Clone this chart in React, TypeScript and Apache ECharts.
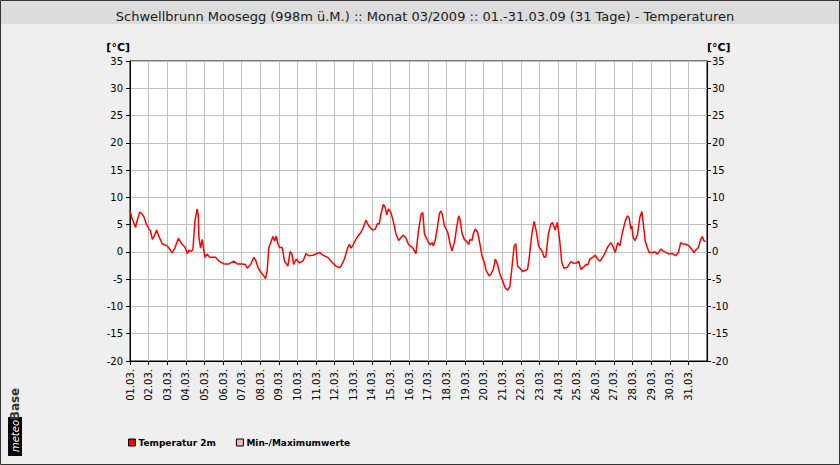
import React, { useEffect, useRef } from "react";
import * as echarts from "echarts";

const titleText =
  "Schwellbrunn Moosegg (998m ü.M.) :: Monat 03/2009 :: 01.-31.03.09 (31 Tage) - Temperaturen";

const dayLabels = [
  "01.03.", "02.03.", "03.03.", "04.03.", "05.03.", "06.03.", "07.03.", "08.03.",
  "09.03.", "10.03.", "11.03.", "12.03.", "13.03.", "14.03.", "15.03.", "16.03.",
  "17.03.", "18.03.", "19.03.", "20.03.", "21.03.", "22.03.", "23.03.", "24.03.",
  "25.03.", "26.03.", "27.03.", "28.03.", "29.03.", "30.03.", "31.03.",
];

// time in days since 01.03. 00:00
const days = [
  0, 0.125, 0.2, 0.3, 0.38, 0.52, 0.66, 0.75, 0.88, 1.02, 1.1, 1.2, 1.29, 1.43, 1.56, 1.73,
  2.0, 2.18, 2.27, 2.41, 2.6, 2.77, 2.95, 3.08, 3.17, 3.3, 3.38, 3.49, 3.61, 3.67, 3.7, 3.79,
  3.88, 4.02, 4.15, 4.28, 4.6, 4.78, 5.04, 5.31, 5.58, 5.76, 6.03, 6.2, 6.3, 6.48, 6.65, 6.74,
  6.89, 7.01, 7.19, 7.28, 7.37, 7.46,
  7.59, 7.68, 7.77, 7.86, 7.95, 8.04, 8.18, 8.3, 8.48, 8.61, 8.7, 8.79, 8.93, 9.1, 9.29, 9.46,
  9.6, 9.82, 10.18, 10.36, 10.63, 10.8, 11.07, 11.25, 11.34, 11.52, 11.7, 11.79, 11.88, 12.0,
  12.18, 12.41, 12.54, 12.68, 12.82, 13.04, 13.18, 13.3, 13.39, 13.48, 13.61, 13.71, 13.79,
  13.89, 14.02, 14.14, 14.29, 14.43, 14.55, 14.68, 14.82, 14.96, 15.18, 15.36,
  15.5, 15.64, 15.73, 15.82, 16.0, 16.13, 16.23, 16.3, 16.41, 16.54, 16.63, 16.71, 16.8, 16.89,
  17.07, 17.2, 17.3, 17.43, 17.55, 17.66, 17.73, 17.84, 17.96, 18.09, 18.2, 18.27, 18.38,
  18.45, 18.55, 18.68, 18.77, 18.91, 19.04, 19.13, 19.3, 19.39, 19.52, 19.63, 19.75, 19.88,
  20.02, 20.16, 20.29, 20.41, 20.52, 20.64, 20.73, 20.82, 20.95, 21.09, 21.23, 21.36, 21.45,
  21.59, 21.71, 21.84, 21.95, 22.02, 22.13, 22.25, 22.34, 22.48, 22.61, 22.7, 22.84, 22.96,
  23.09, 23.2, 23.32, 23.5,
  23.68, 23.86, 24.0, 24.1, 24.23, 24.36, 24.5, 24.59, 24.71, 24.86, 25.0, 25.12, 25.25, 25.39,
  25.54, 25.66, 25.84, 25.96, 26.07, 26.2, 26.32, 26.46, 26.61, 26.73, 26.82, 26.91, 26.96,
  27.04, 27.14, 27.27, 27.39, 27.5, 27.57, 27.68, 27.8, 27.89, 28.07, 28.21, 28.34, 28.52,
  28.64, 28.79, 28.96, 29.14, 29.32, 29.46, 29.59, 29.68, 29.86, 30.04, 30.18, 30.3, 30.39,
  30.54, 30.66, 30.75, 30.84, 30.93,
];

const temps = [
  7.5, 6.0, 5.4, 4.5, 5.7, 7.3, 6.9, 6.4, 5.1, 4.2, 3.9, 2.3, 2.8, 4.0, 2.8, 1.5,
  1.1, 0.3, -0.2, 0.7, 2.5, 1.5, 0.9, -0.3, 0.3, 0.1, 0.5, 5.7, 7.9, 6.7, 2.7, 0.7,
  2.3, -1.0, -0.4, -1.0, -1.0, -1.7, -2.2, -2.2, -1.7, -2.2, -2.2, -2.3, -3.0, -2.3, -1.0, -1.4,
  -3.0, -3.6, -4.4, -4.9, -3.5, 0.8,
  2.0, 2.8, 2.0, 2.9, 1.4, 0.8, 0.8, -1.7, -2.6, 0.1, -0.4, -2.3, -1.3, -2.0, -1.7, -0.3,
  -0.7, -0.6, -0.1, -0.6, -1.0, -1.7, -2.6, -2.9, -2.6, -1.3, 0.8, 1.4, 0.7, 1.4,
  2.6, 3.6, 4.5, 5.8, 4.8, 4.0, 4.2, 5.2, 5.1, 6.9, 8.7, 8.2, 6.8,
  7.9, 7.2, 5.7, 3.3, 2.1, 2.6, 3.1, 2.6, 1.4, 0.8, -0.3,
  3.9, 6.9, 7.2, 3.3, 2.0, 1.3, 1.7, 1.1, 2.3, 5.1, 7.1, 7.5, 6.6, 4.8,
  3.6, 1.4, 0.2, 1.7, 4.5, 6.6, 6.0, 3.4, 2.3, 1.9, 1.4, 2.3, 2.1,
  3.4, 4.2, 3.6, 2.0, -0.7, -2.0, -3.4, -4.4, -4.1, -3.2, -1.3, -2.3, -4.1,
  -5.3, -6.6, -7.0, -6.3, -2.9, 1.1, 1.5, -2.6, -3.0, -3.6, -3.4, -3.2, -1.0,
  3.3, 5.6, 3.6, 1.1, 0.7, 0.2, -1.0, -0.9, 3.3, 5.1, 5.4, 4.0, 5.4,
  2.0, -2.0, -3.0, -2.8,
  -1.8, -2.1, -2.0, -1.7, -3.2, -2.8, -2.3, -2.4, -1.3, -1.0, -0.6, -1.3, -1.7, -1.0,
  -0.1, 0.9, 1.7, 0.9, -0.1, 1.7, 1.1, 3.6, 5.7, 6.6, 6.2, 4.2, 4.8,
  2.6, 2.1, 3.3, 6.3, 7.4, 5.4, 2.0, 0.7, -0.1, -0.1, 0.0, -0.4, 0.5,
  0.2, -0.1, -0.4, -0.3, -0.7, -0.1, 1.7, 1.5, 1.4, 1.1, 0.5, -0.1, 0.3,
  0.8, 2.3, 2.8, 2.0, 1.9,
];

const FONT = "DejaVu Sans";

export default function App() {
  const ref = useRef<HTMLDivElement>(null);
  useEffect(() => {
    if (!ref.current) return;
    const chart = echarts.init(ref.current, null, { renderer: "svg" });
    const lineData = days.map((d, i) => [d, temps[i]]);
    const yAxisCommon = {
      type: "value",
      min: -20,
      max: 35,
      interval: 5,
      name: "[°C]",
      nameLocation: "end",
      nameGap: 14,
      axisLine: { show: true, lineStyle: { color: "#000", width: 1 } },
      axisTick: { show: true, length: 4, lineStyle: { color: "#000" } },
      splitLine: { show: true, lineStyle: { color: "#c0c0c0", width: 1 } },
    };
    chart.setOption({
      animation: false,
      backgroundColor: "#efefef",
      textStyle: { fontFamily: FONT },
      title: {
        text: titleText,
        left: 420,
        textAlign: "center",
        top: 5,
        textStyle: { fontFamily: FONT, fontSize: 13, fontWeight: "normal", color: "#1a1a1a" },
      },
      graphic: [
        {
          type: "rect",
          shape: { x: 0, y: 0, width: 840, height: 24 },
          style: { fill: "#dcdcdc" },
          z: -10,
          silent: true,
        },
        {
          type: "rect",
          shape: { x: 0.5, y: 0.5, width: 839, height: 464 },
          style: { fill: "none", stroke: "#333", lineWidth: 1 },
          z: 100,
          silent: true,
        },
        {
          type: "rect",
          shape: { x: 8, y: 417, width: 14, height: 39 },
          style: { fill: "#000" },
          silent: true,
        },
        {
          type: "text",
          x: 15,
          y: 436,
          rotation: Math.PI / 2,
          style: {
            text: "meteo",
            fill: "#fff",
            font: "italic 10px DejaVu Sans",
            align: "center",
            verticalAlign: "middle",
          },
          silent: true,
        },
        {
          type: "text",
          x: 15,
          y: 404,
          rotation: Math.PI / 2,
          style: {
            text: "Base",
            fill: "#333",
            font: "bold 12px DejaVu Sans",
            align: "center",
            verticalAlign: "middle",
          },
          silent: true,
        },
      ],
      legend: {
        left: 123,
        top: 433,
        icon: "rect",
        itemWidth: 7,
        itemHeight: 7,
        itemGap: 20,
        textStyle: { fontFamily: FONT, fontSize: 9, fontWeight: "bold", color: "#000", padding: [0, 0, 0, -2] },
        data: [
          { name: "Temperatur 2m", itemStyle: { color: "#ff0000", borderColor: "#000", borderWidth: 1 } },
          { name: "Min-/Maximumwerte", itemStyle: { color: "#f4b6b6", borderColor: "#000", borderWidth: 1 } },
        ],
      },
      grid: {
        left: 130,
        right: 133,
        top: 61,
        bottom: 104,
        show: true,
        backgroundColor: "#fff",
        borderColor: "#000",
        borderWidth: 1,
      },
      xAxis: {
        type: "value",
        min: 0,
        max: 31,
        interval: 1,
        axisLine: { show: true, onZero: false, lineStyle: { color: "#000" } },
        axisTick: { show: true, length: 4, lineStyle: { color: "#000" } },
        splitLine: { show: true, lineStyle: { color: "#c0c0c0", width: 1 } },
        axisLabel: {
          rotate: 90,
          margin: 8,
          fontFamily: FONT,
          fontSize: 10,
          color: "#000",
          showMaxLabel: false,
          formatter: (v: number) => dayLabels[Math.round(v)] ?? "",
        },
      },
      yAxis: [
        {
          ...yAxisCommon,
          position: "left",
          nameTextStyle: {
            fontFamily: FONT, fontSize: 11, fontWeight: "bold", color: "#000",
            align: "right", verticalAlign: "middle", padding: [0, 0, 0, 0],
          },
          axisLabel: { margin: 7, fontFamily: FONT, fontSize: 10, color: "#000" },
        },
        {
          ...yAxisCommon,
          position: "right",
          splitLine: { show: false },
          nameTextStyle: {
            fontFamily: FONT, fontSize: 11, fontWeight: "bold", color: "#000",
            align: "left", verticalAlign: "middle", padding: [0, 0, 0, 0],
          },
          axisLabel: { margin: 5, fontFamily: FONT, fontSize: 10, color: "#000" },
        },
      ],
      series: [
        {
          name: "Temperatur 2m",
          type: "line",
          data: lineData,
          showSymbol: false,
          symbol: "none",
          lineStyle: { color: "#ff0000", width: 1.5 },
          itemStyle: { color: "#ff0000" },
          z: 5,
        },
        {
          name: "Min-/Maximumwerte",
          type: "line",
          data: [],
          showSymbol: false,
          lineStyle: { color: "#f4b6b6" },
          itemStyle: { color: "#f4b6b6" },
        },
      ],
    });
    return () => chart.dispose();
  }, []);
  return (
    <div
      ref={ref}
      style={{ position: "absolute", left: 0, top: 0, width: 840, height: 465 }}
    />
  );
}
